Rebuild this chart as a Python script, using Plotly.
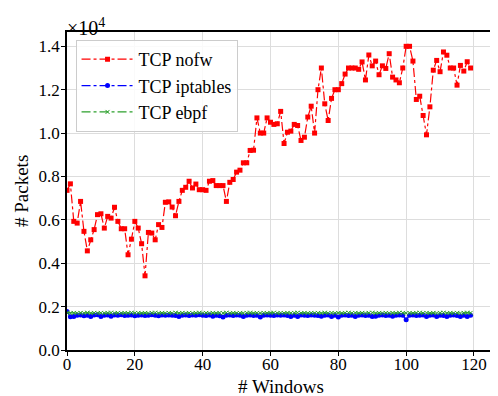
import plotly.graph_objects as go

windows = list(range(120))

# TCP nofw (values in units of 10^4 packets)
nofw = [0.736, 0.766, 0.593, 0.585, 0.685, 0.547, 0.457, 0.508, 0.555, 0.624,
        0.628, 0.562, 0.616, 0.608, 0.658, 0.593, 0.559, 0.559, 0.439, 0.511,
        0.593, 0.562, 0.490, 0.342, 0.542, 0.539, 0.508, 0.578, 0.565, 0.681,
        0.683, 0.659, 0.619, 0.685, 0.736, 0.750, 0.778, 0.747, 0.765, 0.739,
        0.739, 0.736, 0.778, 0.781, 0.758, 0.758, 0.758, 0.685, 0.773, 0.786,
        0.820, 0.829, 0.863, 0.863, 0.920, 0.921, 1.070, 1.000, 1.000, 1.070,
        1.050, 1.040, 1.043, 1.100, 0.952, 1.004, 1.009, 1.040, 1.035, 0.966,
        0.981, 1.074, 1.124, 1.000, 1.200, 1.300, 1.135, 1.058, 1.160, 1.200,
        1.200, 1.228, 1.272, 1.300, 1.300, 1.300, 1.294, 1.328, 1.245, 1.360,
        1.310, 1.332, 1.269, 1.310, 1.298, 1.366, 1.258, 1.245, 1.232, 1.300,
        1.400, 1.400, 1.332, 1.155, 1.170, 1.081, 0.992, 1.121, 1.290, 1.335,
        1.283, 1.374, 1.359, 1.300, 1.300, 1.221, 1.312, 1.286, 1.329, 1.300]

iptables = [0.178, 0.153, 0.155, 0.160, 0.161, 0.158, 0.160, 0.155, 0.161, 0.162,
            0.155, 0.160, 0.161, 0.156, 0.161, 0.160, 0.162, 0.159, 0.160, 0.161,
            0.158, 0.160, 0.161, 0.159, 0.160, 0.162, 0.160, 0.158, 0.161, 0.160,
            0.161, 0.160, 0.159, 0.154, 0.160, 0.161, 0.159, 0.161, 0.160, 0.162,
            0.160, 0.159, 0.161, 0.156, 0.160, 0.158, 0.152, 0.160, 0.161, 0.159,
            0.161, 0.160, 0.155, 0.160, 0.161, 0.159, 0.160, 0.152, 0.160, 0.161,
            0.160, 0.159, 0.161, 0.160, 0.161, 0.159, 0.155, 0.160, 0.155, 0.161,
            0.160, 0.159, 0.161, 0.160, 0.159, 0.156, 0.160, 0.161, 0.155, 0.160,
            0.152, 0.160, 0.161, 0.159, 0.160, 0.155, 0.160, 0.161, 0.159, 0.160,
            0.154, 0.156, 0.160, 0.161, 0.159, 0.160, 0.156, 0.160, 0.161, 0.160,
            0.139, 0.160, 0.161, 0.159, 0.160, 0.161, 0.155, 0.160, 0.161, 0.155,
            0.160, 0.159, 0.155, 0.160, 0.161, 0.159, 0.155, 0.160, 0.155, 0.160]

ebpf = [0.172, 0.170, 0.171, 0.170, 0.171, 0.170, 0.172, 0.170, 0.171, 0.170,
        0.171, 0.170, 0.171, 0.172, 0.170, 0.171, 0.170, 0.171, 0.170, 0.172,
        0.170, 0.171, 0.170, 0.171, 0.170, 0.171, 0.172, 0.170, 0.171, 0.170,
        0.171, 0.170, 0.172, 0.170, 0.171, 0.170, 0.171, 0.170, 0.171, 0.172,
        0.170, 0.171, 0.170, 0.171, 0.170, 0.171, 0.170, 0.172, 0.170, 0.171,
        0.170, 0.171, 0.170, 0.171, 0.172, 0.170, 0.171, 0.170, 0.171, 0.170,
        0.171, 0.172, 0.170, 0.171, 0.170, 0.171, 0.170, 0.171, 0.172, 0.170,
        0.171, 0.170, 0.171, 0.170, 0.171, 0.170, 0.172, 0.170, 0.171, 0.170,
        0.171, 0.170, 0.171, 0.172, 0.170, 0.171, 0.170, 0.171, 0.170, 0.171,
        0.172, 0.170, 0.171, 0.170, 0.171, 0.170, 0.171, 0.170, 0.172, 0.171,
        0.170, 0.171, 0.170, 0.171, 0.172, 0.170, 0.171, 0.170, 0.171, 0.170,
        0.171, 0.172, 0.170, 0.171, 0.170, 0.171, 0.170, 0.171, 0.172, 0.171]

y_ticks = [0.0, 0.2, 0.4, 0.6, 0.8, 1.0, 1.2, 1.4]
x_ticks = [0, 20, 40, 60, 80, 100, 120]

FONT = '"Liberation Serif", "Times New Roman", "DejaVu Serif", serif'

fig = go.Figure()
fig.add_trace(go.Scatter(x=windows, y=nofw, name="TCP nofw", mode="lines+markers",
                         line=dict(color="#ff0000", width=1.2, dash="dashdot"),
                         marker=dict(symbol="square", size=5, color="#ff0000")))
fig.add_trace(go.Scatter(x=windows, y=iptables, name="TCP iptables", mode="lines+markers",
                         line=dict(color="#0000ff", width=1.2, dash="dashdot"),
                         marker=dict(symbol="circle", size=5, color="#0000ff")))
fig.add_trace(go.Scatter(x=windows, y=ebpf, name="TCP ebpf", mode="lines+markers",
                         line=dict(color="#2ca02c", width=1.2, dash="dashdot"),
                         marker=dict(symbol="x-thin", size=4, color="#2ca02c",
                                     line=dict(color="#2ca02c", width=1))))

axis_common = dict(showline=True, linecolor="black", linewidth=1.5, mirror=True,
                   ticks="outside", ticklen=4, tickcolor="black",
                   showgrid=True, gridcolor="#dddddd", gridwidth=1,
                   zeroline=False, automargin=False,
                   tickfont=dict(family=FONT, size=17, color="black"))

# page has an 8px body margin, so the figure is sized to fit the window
fig.update_layout(
    width=490, height=388,
    margin=dict(l=59, r=4, t=24, b=46),
    paper_bgcolor="white", plot_bgcolor="white",
    font=dict(family=FONT, color="black"),
    xaxis=dict(range=[0, 125.9], tickvals=x_ticks, ticklabelstandoff=-6, **axis_common),
    yaxis=dict(range=[0, 1.466], tickvals=y_ticks, tickformat=".1f",
               ticklabelstandoff=-2, **axis_common),
    legend=dict(x=0.02, y=0.975, xanchor="left", yanchor="top",
                bgcolor="rgba(255,255,255,0.85)", bordercolor="#cccccc", borderwidth=1,
                font=dict(family=FONT, size=18, color="black"),
                itemwidth=52),
    showlegend=True,
)

fig.add_annotation(x=0, y=1, xref="paper", yref="paper", xanchor="left", yanchor="bottom",
                   text="×10<sup>4</sup>", showarrow=False, xshift=-2, yshift=-9,
                   font=dict(family=FONT, size=20, color="black"))
fig.add_annotation(x=0.5, y=0, xref="paper", yref="paper", xanchor="center", yanchor="middle",
                   text="# Windows", showarrow=False, yshift=-36,
                   font=dict(family=FONT, size=19, color="black"))
fig.add_annotation(x=0, y=0.5, xref="paper", yref="paper", xanchor="center", yanchor="middle",
                   text="# Packets", showarrow=False, xshift=-46, textangle=-90,
                   font=dict(family=FONT, size=19, color="black"))

fig.write_html("out.html")
